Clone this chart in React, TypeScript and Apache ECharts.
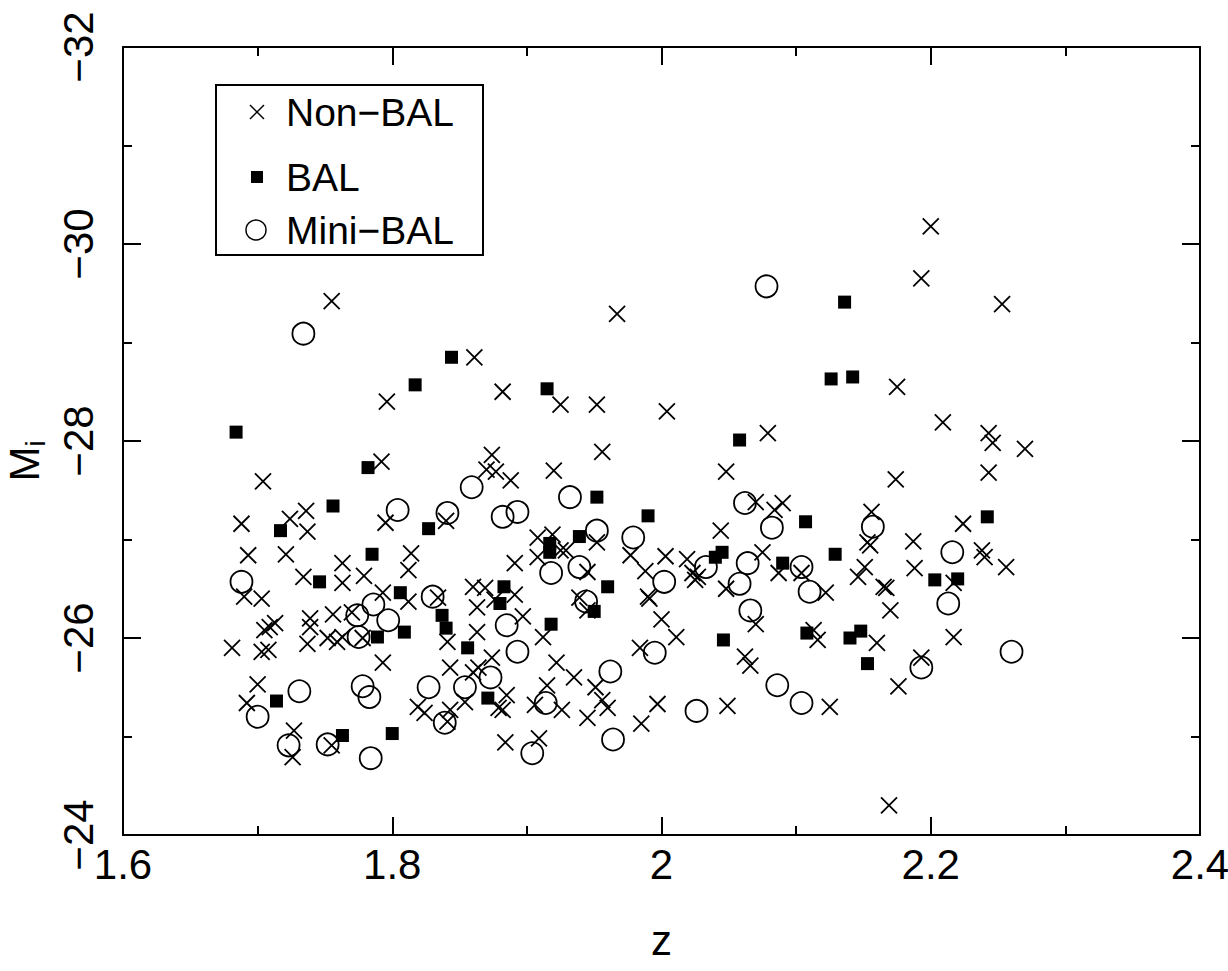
import React, { useEffect, useRef } from "react";
import * as echarts from "echarts";

// z (redshift), M_i
const nonBal: number[][] = [
  [1.755, -29.42], [1.796, -28.4], [1.792, -27.79], [1.704, -27.59], [1.736, -27.29], [1.724, -27.21],
  [1.688, -27.16], [1.737, -27.08], [1.795, -27.17], [1.693, -26.84], [1.721, -26.85], [1.814, -26.86],
  [1.734, -26.62], [1.763, -26.76], [1.763, -26.56], [1.779, -26.63], [1.812, -26.69], [1.69, -26.42],
  [1.703, -26.4], [1.793, -26.46], [1.812, -26.37], [1.705, -26.08], [1.709, -26.11], [1.713, -26.15],
  [1.739, -26.2], [1.739, -26.11], [1.756, -26.24], [1.77, -26.26], [1.681, -25.9], [1.703, -25.86],
  [1.708, -25.88], [1.737, -25.94], [1.752, -26.0], [1.759, -25.96], [1.763, -26.01], [1.778, -26.0],
  [1.793, -25.75], [1.7, -25.53], [1.692, -25.34], [1.819, -25.3], [1.824, -25.24], [1.727, -25.06],
  [1.726, -24.79], [1.755, -24.91],
  [1.967, -29.29], [1.861, -28.85], [1.882, -28.5], [1.925, -28.37], [1.952, -28.37], [1.956, -27.89],
  [1.874, -27.86], [1.87, -27.71], [1.877, -27.69], [1.888, -27.6], [1.92, -27.7], [1.84, -27.19],
  [1.908, -27.02], [1.919, -27.05], [1.952, -26.97], [1.929, -26.89], [1.977, -26.84], [1.891, -26.76],
  [1.908, -26.82], [1.925, -26.89], [1.945, -26.67], [1.86, -26.52], [1.869, -26.51], [1.891, -26.44],
  [1.834, -26.41], [1.863, -26.31], [1.876, -26.39], [1.897, -26.22], [1.939, -26.41], [1.945, -26.28],
  [1.863, -26.06], [1.912, -26.01], [1.841, -25.96], [1.984, -25.9], [1.874, -25.8], [1.843, -25.7],
  [1.864, -25.7], [1.922, -25.75], [1.935, -25.6], [1.951, -25.5], [1.86, -25.65], [1.854, -25.35],
  [1.885, -25.42], [1.915, -25.52], [1.906, -25.32], [1.926, -25.27], [1.879, -25.29], [1.882, -25.27],
  [1.843, -25.27], [1.841, -25.15], [1.945, -25.19], [1.956, -25.37], [1.96, -25.29], [1.884, -24.94],
  [1.909, -24.98], [1.985, -25.13],
  [2.004, -28.3], [2.079, -28.08], [2.048, -27.69], [2.07, -27.38], [2.09, -27.37], [2.084, -27.3],
  [2.044, -27.09], [2.003, -26.83], [2.019, -26.8], [2.075, -26.87], [2.023, -26.66], [2.027, -26.62],
  [2.025, -26.59], [1.988, -26.68], [1.99, -26.42], [1.991, -26.4], [2.048, -26.5], [2.087, -26.66],
  [2.104, -26.66], [2.122, -26.46], [2.07, -26.14], [2.0, -26.19], [2.011, -26.01], [2.062, -25.81],
  [2.066, -25.72], [2.113, -26.08], [2.116, -25.98], [2.125, -25.3], [2.049, -25.31], [1.997, -25.33],
  [2.2, -30.18], [2.193, -29.65], [2.253, -29.39], [2.175, -28.55], [2.209, -28.19], [2.243, -28.08],
  [2.246, -27.98], [2.27, -27.92], [2.243, -27.68], [2.174, -27.61], [2.156, -27.28], [2.153, -26.97],
  [2.155, -26.94], [2.187, -26.98], [2.224, -27.16], [2.238, -26.89], [2.24, -26.82], [2.256, -26.72],
  [2.151, -26.72], [2.146, -26.62], [2.188, -26.71], [2.217, -26.56], [2.165, -26.52], [2.167, -26.51],
  [2.17, -26.28], [2.16, -25.95], [2.217, -26.01], [2.193, -25.8], [2.176, -25.51], [2.169, -24.3],
];

const bal: number[][] = [
  [1.817, -28.57], [1.684, -28.09], [1.782, -27.73], [1.756, -27.34], [1.717, -27.09], [1.827, -27.11],
  [1.785, -26.85], [1.746, -26.57], [1.806, -26.46], [1.789, -26.01], [1.809, -26.06], [1.714, -25.36],
  [1.763, -25.01], [1.8, -25.03], [1.844, -28.85], [1.915, -28.53], [1.952, -27.43], [1.917, -26.96],
  [1.917, -26.87], [1.939, -27.03], [1.883, -26.52], [1.96, -26.52], [1.88, -26.35], [1.95, -26.27],
  [1.837, -26.23], [1.84, -26.1], [1.918, -26.14], [1.856, -25.9], [1.871, -25.39], [2.136, -29.41],
  [2.126, -28.63], [2.142, -28.65], [2.058, -28.01], [1.99, -27.24], [2.107, -27.18], [2.045, -26.87],
  [2.04, -26.82], [2.129, -26.85], [2.09, -26.76], [2.046, -25.98], [2.108, -26.05], [2.14, -26.0],
  [2.148, -26.07], [2.153, -25.74], [2.242, -27.23], [2.203, -26.59], [2.22, -26.6],
];

const miniBal: number[][] = [
  [1.734, -29.09], [1.804, -27.3], [1.688, -26.57], [1.83, -26.42], [1.786, -26.34], [1.774, -26.23],
  [1.797, -26.18], [1.775, -26.01], [1.731, -25.46], [1.7, -25.2], [1.778, -25.51], [1.783, -25.4],
  [1.827, -25.5], [1.723, -24.91], [1.752, -24.92], [1.784, -24.78], [1.859, -27.53], [1.932, -27.43],
  [1.841, -27.27], [1.882, -27.23], [1.893, -27.28], [1.952, -27.09], [1.979, -27.02], [1.918, -26.66],
  [1.939, -26.72], [1.885, -26.13], [1.944, -26.37], [1.893, -25.86], [1.962, -25.66], [1.854, -25.5],
  [1.873, -25.6], [1.914, -25.34], [1.839, -25.14], [1.904, -24.83], [1.964, -24.97], [2.078, -29.57],
  [2.062, -27.37], [2.082, -27.12], [2.064, -26.76], [2.033, -26.72], [2.002, -26.57], [2.058, -26.55],
  [2.104, -26.72], [2.11, -26.47], [2.066, -26.28], [1.995, -25.85], [2.086, -25.52], [2.104, -25.34],
  [2.026, -25.26], [2.157, -27.13], [2.216, -26.87], [2.213, -26.35], [2.26, -25.86], [2.193, -25.7],
];

const legendLabels = ["Non\u2212BAL", "BAL", "Mini\u2212BAL"];
const xName = "z";
const xRange = [1.6, 2.4];
const yRange = [-32, -24];

const TICK_FONT = "'Liberation Sans', Arial, sans-serif";
const TEXT_FONT = "'Liberation Sans', Arial, sans-serif";

export default function App() {
  const ref = useRef<HTMLDivElement>(null);
  useEffect(() => {
    if (!ref.current) return;
    const chart = echarts.init(ref.current, undefined, { renderer: "svg" });
    const line = { show: true, onZero: false, lineStyle: { color: "#000", width: 2 } };
    const tick = { show: true, inside: true, length: 18, lineStyle: { color: "#000", width: 2 } };
    const minor = { show: true, splitNumber: 2, length: 9, lineStyle: { color: "#000", width: 2 } };
    const common = {
      type: "value" as const,
      axisLine: line,
      axisTick: tick,
      minorTick: minor,
      splitLine: { show: false },
      minorSplitLine: { show: false },
    };
    const cross = "path://M0,0L10,10M10,0L0,10";
    chart.setOption({
      animation: false,
      backgroundColor: "#fff",
      grid: {
        left: 123,
        top: 47,
        width: 1077,
        height: 788,
        containLabel: false,
        outerBoundsMode: "none",
      },
      xAxis: [
        {
          ...common,
          min: xRange[0],
          max: xRange[1],
          interval: 0.2,
          position: "bottom",
          axisLabel: { margin: 8, fontSize: 42, color: "#000", fontFamily: TICK_FONT },
          name: xName,
          nameLocation: "middle",
          nameGap: 84,
          nameTextStyle: { fontSize: 42, color: "#000", fontFamily: TICK_FONT },
        },
        {
          ...common,
          min: xRange[0],
          max: xRange[1],
          interval: 0.2,
          position: "top",
          axisLabel: { show: false },
        },
      ],
      yAxis: [
        {
          ...common,
          min: yRange[0],
          max: yRange[1],
          interval: 2,
          inverse: true,
          position: "left",
          axisLabel: {
            margin: 24,
            rotate: 90,
            fontSize: 42,
            color: "#000",
            fontFamily: TICK_FONT,
            formatter: (v: number) => (v < 0 ? "\u2212" + Math.abs(v) : String(v)),
          },
          name: "{m|M}{s|i}",
          nameLocation: "middle",
          nameRotate: 90,
          nameGap: 68,
          nameTextStyle: {
            padding: [0, 40, 0, 0],
            rich: {
              m: { fontSize: 42, color: "#000", fontFamily: TICK_FONT },
              s: { fontSize: 28, color: "#000", fontFamily: TICK_FONT, padding: [22, 0, 0, 0] },
            },
          },
        },
        {
          ...common,
          min: yRange[0],
          max: yRange[1],
          interval: 2,
          inverse: true,
          position: "right",
          axisLabel: { show: false },
        },
      ],
      series: [
        {
          name: legendLabels[0],
          type: "scatter",
          data: nonBal,
          symbol: cross,
          symbolSize: 16,
          itemStyle: { color: "transparent", borderColor: "#000", borderWidth: 1.8, opacity: 1 },
          z: 3,
        },
        {
          name: legendLabels[1],
          type: "scatter",
          data: bal,
          symbol: "rect",
          symbolSize: 13,
          itemStyle: { color: "#000", opacity: 1 },
          z: 2,
        },
        {
          name: legendLabels[2],
          type: "scatter",
          data: miniBal,
          symbol: "circle",
          symbolSize: 22,
          itemStyle: { color: "transparent", borderColor: "#000", borderWidth: 1.8, opacity: 1 },
          z: 4,
        },
      ],
      graphic: [
        {
          type: "group",
          z: 100,
          children: [
            { type: "rect", shape: { x: 216, y: 85, width: 267, height: 170 }, style: { fill: "#fff", stroke: "#000", lineWidth: 2 } },
            { type: "line", shape: { x1: 250, y1: 105, x2: 264, y2: 119 }, style: { stroke: "#000", lineWidth: 1.5 } },
            { type: "line", shape: { x1: 250, y1: 119, x2: 264, y2: 105 }, style: { stroke: "#000", lineWidth: 1.5 } },
            { type: "rect", shape: { x: 251, y: 171, width: 12, height: 12 }, style: { fill: "#000" } },
            { type: "circle", shape: { cx: 256, cy: 230, r: 10 }, style: { fill: "none", stroke: "#000", lineWidth: 1.5 } },
            { type: "text", x: 286, y: 112, style: { text: legendLabels[0], font: `39px ${TEXT_FONT}`, fill: "#000", verticalAlign: "middle" } },
            { type: "text", x: 286, y: 177, style: { text: legendLabels[1], font: `39px ${TEXT_FONT}`, fill: "#000", verticalAlign: "middle" } },
            { type: "text", x: 286, y: 230, style: { text: legendLabels[2], font: `39px ${TEXT_FONT}`, fill: "#000", verticalAlign: "middle" } },
          ],
        },
      ],
    });
    return () => chart.dispose();
  }, []);
  return (
    <div
      ref={ref}
      style={{ position: "fixed", left: 0, top: 0, width: 1228, height: 971, background: "#fff" }}
    />
  );
}
